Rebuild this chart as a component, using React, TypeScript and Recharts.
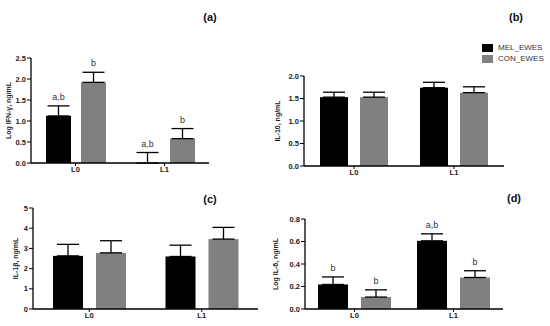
import React from 'react';
import { BarChart, Bar, XAxis, YAxis, ErrorBar, Legend } from 'recharts';

const FONT = '"Liberation Sans", Arial, Helvetica, sans-serif';

const categories = ['L0', 'L1'];
const seriesNames = ['MEL_EWES', 'CON_EWES'];

// (a) Log IFN-γ, ng/mL
const ifnMel = [1.12, 0];
const ifnMelErr = [0.24, 0.25];
const ifnCon = [1.92, 0.58];
const ifnConErr = [0.24, 0.24];
const ifnMelLetters = ['a,b', 'a,b'];
const ifnConLetters = ['b', 'b'];
const ifnTicks = [0, 0.5, 1.0, 1.5, 2.0, 2.5];

// (b) IL-10, ng/mL
const il10Mel = [1.53, 1.74];
const il10MelErr = [0.11, 0.12];
const il10Con = [1.53, 1.63];
const il10ConErr = [0.11, 0.13];
const il10Letters = ['', ''];
const il10Ticks = [0, 0.5, 1.0, 1.5, 2.0];

// (c) IL-1β, ng/mL
const il1Mel = [2.63, 2.6];
const il1MelErr = [0.57, 0.56];
const il1Con = [2.78, 3.46];
const il1ConErr = [0.6, 0.58];
const il1Letters = ['', ''];
const il1Ticks = [0, 1, 2, 3, 4, 5];

// (d) Log IL-6, ng/mL
const il6Mel = [0.218, 0.606];
const il6MelErr = [0.067, 0.062];
const il6Con = [0.106, 0.28];
const il6ConErr = [0.064, 0.06];
const il6MelLetters = ['b', 'a,b'];
const il6ConLetters = ['b', 'b'];
const il6Ticks = [0, 0.2, 0.4, 0.6, 0.8];

const MEL_COLOR = '#000000';
const CON_COLOR = '#808080';
const seriesColors = [MEL_COLOR, CON_COLOR];

function buildRows(mel: number[], melErr: number[], con: number[], conErr: number[], melL: string[], conL: string[]) {
  return categories.map((c, i) => ({
    cat: c,
    mel: mel[i],
    melErr: [0, melErr[i]],
    con: con[i],
    conErr: [0, conErr[i]],
    melLetter: melL[i],
    conLetter: conL[i],
  }));
}

function makeShape(fill: string, valKey: string, errKey: string, letterKey: string, domainMax: number) {
  return (props: any) => {
    const { x, y, width, height, payload, background } = props;
    const letter = payload ? payload[letterKey] : '';
    let ty = y;
    if (background && background.height && payload) {
      const top = payload[valKey] + payload[errKey][1];
      ty = background.y + background.height * (1 - top / domainMax);
    }
    return (
      <g>
        {height > 0 ? <rect x={x} y={y} width={width} height={height} fill={fill} /> : null}
        {letter ? (
          <text x={x + width / 2} y={ty - 6} textAnchor="middle" fontSize={9} fill="#333" fontFamily={FONT}>
            {letter}
          </text>
        ) : null}
      </g>
    );
  };
}

type PanelProps = {
  rows: any[];
  plotLeft: number;
  plotRight: number;
  plotTop: number;
  plotBottom: number;
  colLeft: number;
  ticks: number[];
  decimals: number;
  yLabel: string;
  yLabelX: number;
  barSize: number;
  barGap: number;
  legend?: { left: number; top: number };
};

function LegendBox() {
  return (
    <div style={{ fontFamily: FONT, fontSize: 8, color: '#333' }}>
      {seriesNames.map((n, i) => (
        <div key={n} style={{ display: 'flex', alignItems: 'center', height: 11 }}>
          <span style={{ display: 'inline-block', width: 11, height: 8, background: seriesColors[i], marginRight: 5 }} />
          <span>{n}</span>
        </div>
      ))}
    </div>
  );
}

function Panel(p: PanelProps) {
  const cx = p.colLeft;
  const cy = p.plotTop - 8;
  const W = p.plotRight - cx + 8;
  const xAxisH = 14;
  const H = p.plotBottom - cy + xAxisH + 2;
  const margin = {
    top: p.plotTop - cy,
    left: 0,
    right: cx + W - p.plotRight,
    bottom: cy + H - p.plotBottom - xAxisH,
  };
  const dMax = p.ticks[p.ticks.length - 1];
  const tickStyle = { fontSize: 7.5, fontWeight: 'bold', fill: '#1a1a1a', fontFamily: FONT };
  const labelX = p.yLabelX - cx;
  return (
    <div style={{ position: 'absolute', left: cx, top: cy }}>
      <BarChart width={W} height={H} data={p.rows} margin={margin} barGap={p.barGap} barCategoryGap={0}>
        <XAxis
          dataKey="cat"
          height={xAxisH}
          tick={tickStyle}
          tickSize={3}
          tickMargin={1}
          axisLine={{ stroke: '#000', strokeWidth: 1.3 }}
          tickLine={{ stroke: '#000', strokeWidth: 1 }}
          interval={0}
        />
        <YAxis
          width={p.plotLeft - cx}
          domain={[0, dMax]}
          ticks={p.ticks}
          allowDataOverflow={false}
          tickFormatter={(v: number) => v.toFixed(p.decimals)}
          tick={tickStyle}
          tickSize={4}
          tickMargin={1}
          axisLine={{ stroke: '#000', strokeWidth: 1.3 }}
          tickLine={{ stroke: '#000', strokeWidth: 1 }}
          interval={0}
          label={{
            content: (lp: any) => {
              const vb = lp.viewBox || { y: 0, height: 0 };
              const yc = vb.y + vb.height / 2;
              return (
                <text
                  x={labelX}
                  y={yc}
                  transform={`rotate(-90, ${labelX}, ${yc})`}
                  textAnchor="middle"
                  dominantBaseline="central"
                  fontSize={7}
                  fontWeight="bold"
                  fill="#1a1a1a"
                  fontFamily={FONT}
                >
                  {p.yLabel}
                </text>
              );
            },
          }}
        />
        {p.legend ? (
          <Legend
            layout="vertical"
            align="center"
            verticalAlign="middle"
            wrapperStyle={{
              left: p.legend.left - cx,
              top: p.legend.top - cy,
              width: 80,
            }}
            content={() => <LegendBox />}
          />
        ) : null}
        <Bar
          dataKey="mel"
          name={seriesNames[0]}
          fill={MEL_COLOR}
          barSize={p.barSize}
          isAnimationActive={false}
          shape={makeShape(MEL_COLOR, 'mel', 'melErr', 'melLetter', dMax)}
        >
          <ErrorBar dataKey="melErr" direction="y" width={11} stroke="#000" strokeWidth={1.3} isAnimationActive={false} />
        </Bar>
        <Bar
          dataKey="con"
          name={seriesNames[1]}
          fill={CON_COLOR}
          barSize={p.barSize}
          isAnimationActive={false}
          shape={makeShape(CON_COLOR, 'con', 'conErr', 'conLetter', dMax)}
        >
          <ErrorBar dataKey="conErr" direction="y" width={11} stroke="#000" strokeWidth={1.3} isAnimationActive={false} />
        </Bar>
      </BarChart>
    </div>
  );
}

const titleStyle: React.CSSProperties = {
  position: 'absolute',
  fontFamily: FONT,
  fontWeight: 'bold',
  fontSize: 11,
  color: '#111',
  transform: 'translate(-50%, -50%)',
  whiteSpace: 'nowrap',
};

export default function App() {
  const rowsA = buildRows(ifnMel, ifnMelErr, ifnCon, ifnConErr, ifnMelLetters, ifnConLetters);
  const rowsB = buildRows(il10Mel, il10MelErr, il10Con, il10ConErr, il10Letters, il10Letters);
  const rowsC = buildRows(il1Mel, il1MelErr, il1Con, il1ConErr, il1Letters, il1Letters);
  const rowsD = buildRows(il6Mel, il6MelErr, il6Con, il6ConErr, il6MelLetters, il6ConLetters);
  return (
    <div style={{ position: 'absolute', left: 0, top: 0, width: 550, height: 326, background: '#fff', overflow: 'hidden', fontFamily: FONT }}>
      <Panel rows={rowsA} colLeft={0} plotLeft={31} plotRight={209} plotTop={58} plotBottom={163}
        ticks={ifnTicks} decimals={1} yLabel="Log IFN-γ, ng/mL" yLabelX={8} barSize={25} barGap={10} />
      <Panel rows={rowsB} colLeft={268} plotLeft={304} plotRight={504} plotTop={76} plotBottom={166}
        ticks={il10Ticks} decimals={1} yLabel="IL-10, ng/mL" yLabelX={277} barSize={28} barGap={12}
        legend={{ left: 482, top: 42 }} />
      <Panel rows={rowsC} colLeft={0} plotLeft={33} plotRight={258} plotTop={208} plotBottom={309}
        ticks={il1Ticks} decimals={0} yLabel="IL-1β, ng/mL" yLabelX={15} barSize={30} barGap={13} />
      <Panel rows={rowsD} colLeft={268} plotLeft={305} plotRight={503} plotTop={219} plotBottom={309}
        ticks={il6Ticks} decimals={1} yLabel="Log IL-6, ng/mL" yLabelX={275} barSize={30} barGap={13} />
      <div style={{ ...titleStyle, left: 210, top: 17 }}>(a)</div>
      <div style={{ ...titleStyle, left: 516, top: 17 }}>(b)</div>
      <div style={{ ...titleStyle, left: 210, top: 199 }}>(c)</div>
      <div style={{ ...titleStyle, left: 514, top: 198 }}>(d)</div>
    </div>
  );
}
